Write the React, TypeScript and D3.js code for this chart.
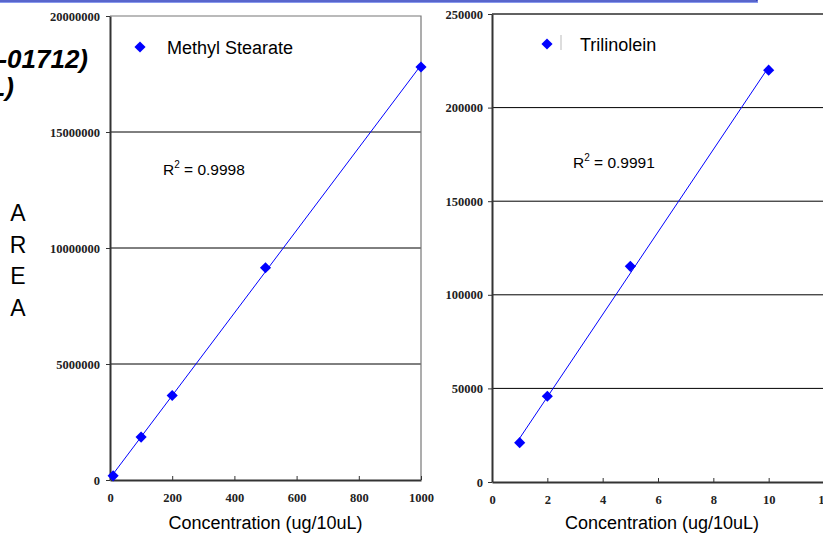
import * as d3 from "d3";
import { useEffect, useRef } from "react";

// Methyl Stearate calibration
const stearateConc = [10, 100, 200, 500, 1000];
const stearateArea = [180000, 1850000, 3640000, 9150000, 17800000];
const stearateYTicks = [0, 5000000, 10000000, 15000000, 20000000];
const stearateXTicks = [0, 200, 400, 600, 800, 1000];

// Trilinolein calibration
const trilConc = [1, 2, 5, 10];
const trilArea = [21000, 45800, 115200, 220000];
const trilYTicks = [0, 50000, 100000, 150000, 200000, 250000];
const trilXTicks = [0, 2, 4, 6, 8, 10, 12];

const areaLetters = ["A", "R", "E", "A"];

function fit(xs: number[], ys: number[]) {
    const mx = d3.mean(xs)!;
    const my = d3.mean(ys)!;
    const sxy = d3.sum(xs, (x, i) => (x - mx) * (ys[i] - my));
    const sxx = d3.sum(xs, x => (x - mx) * (x - mx));
    const b = sxy / sxx;
    return (x: number) => my + b * (x - mx);
}

export default function App() {
    const svgRef = useRef<SVGSVGElement>(null);

    useEffect(() => {
        const svg = d3.select(svgRef.current);
        svg.selectAll("*").remove();

        // blue frame at the top
        svg.append("rect")
            .attr("x", -5).attr("y", -20).attr("width", 762).attr("height", 21)
            .attr("fill", "none").attr("stroke", "#2233bb").attr("stroke-width", 1.5);
        svg.append("line")
            .attr("x1", 0).attr("x2", 758).attr("y1", 2.5).attr("y2", 2.5)
            .attr("stroke", "#8899ee").attr("stroke-width", 1);

        // title fragments cut off at left
        svg.append("text")
            .attr("x", 88).attr("y", 68)
            .attr("text-anchor", "end")
            .attr("font-family", "Arial, 'Liberation Sans'")
            .attr("font-size", 26).attr("font-weight", "bold").attr("font-style", "italic")
            .text("(TC-01712)");
        svg.append("text")
            .attr("x", 14).attr("y", 96)
            .attr("text-anchor", "end")
            .attr("font-family", "Arial, 'Liberation Sans'")
            .attr("font-size", 26).attr("font-weight", "bold").attr("font-style", "italic")
            .text("(ug/10uL)");

        svg.append("g")
            .selectAll("text")
            .data(areaLetters)
            .join("text")
            .attr("x", 18)
            .attr("y", (d, i) => 221 + i * 31.5)
            .attr("text-anchor", "middle")
            .attr("font-family", "Arial, 'Liberation Sans'")
            .attr("font-size", 23)
            .text(d => d);

        const drawChart = (opts: any) => {
            const { xs, ys, xTicks, yTicks, xDomain, yDomain, left, right, top, bottom, labelGap, legend, legendX, legendY, r2, r2X, r2Y, bar, frame } = opts;
            const x = d3.scaleLinear().domain(xDomain).range([left, right]);
            const y = d3.scaleLinear().domain(yDomain).range([bottom, top]);
            const g = svg.append("g");

            // gridlines
            g.append("g")
                .selectAll("line")
                .data(yTicks.slice(1, -1))
                .join("line")
                .attr("x1", left).attr("x2", right)
                .attr("y1", (d: number) => y(d)).attr("y2", (d: number) => y(d))
                .attr("stroke", "#000").attr("stroke-width", 1);

            // frame top/right
            g.append("path")
                .attr("d", `M${left},${top}H${right}V${bottom}`)
                .attr("fill", "none").attr("stroke", frame).attr("stroke-width", 1.2);

            const yAxis = g.append("g")
                .attr("transform", `translate(${left},0)`)
                .call(d3.axisLeft(y).tickValues(yTicks).tickSizeInner(4).tickSizeOuter(0).tickPadding(labelGap).tickFormat(d3.format("d")));
            const xAxis = g.append("g")
                .attr("transform", `translate(0,${bottom})`)
                .call(d3.axisBottom(x).tickValues(xTicks).tickSizeInner(-4).tickSizeOuter(0).tickPadding(13).tickFormat(d3.format("d")));
            [yAxis, xAxis].forEach(a => {
                a.select(".domain").attr("stroke", "#333").attr("stroke-width", 2);
                a.selectAll(".tick line").attr("stroke", "#333");
                a.selectAll(".tick text")
                    .attr("font-family", "'Times New Roman', 'Liberation Serif', serif")
                    .attr("font-weight", "bold")
                    .attr("font-size", 12.5)
                    .attr("fill", "#222");
            });

            // trendline
            const f = fit(xs, ys);
            const ext = d3.extent(xs) as [number, number];
            g.append("line")
                .attr("x1", x(ext[0])).attr("y1", y(f(ext[0])))
                .attr("x2", x(ext[1])).attr("y2", y(f(ext[1])))
                .attr("stroke", "#0000ff").attr("stroke-width", 1);

            const diamond = d3.symbol(d3.symbolSquare, 62);
            g.append("g")
                .selectAll("path")
                .data(xs.map((v: number, i: number) => [v, ys[i]]))
                .join("path")
                .attr("d", diamond)
                .attr("transform", (d: number[]) => `translate(${x(d[0])},${y(d[1])}) rotate(45)`)
                .attr("fill", "#0000ff");

            // legend
            g.append("path")
                .attr("d", diamond)
                .attr("transform", `translate(${legendX},${legendY}) rotate(45)`)
                .attr("fill", "#0000ff");
            if (bar) {
                g.append("line")
                    .attr("x1", legendX + 14).attr("x2", legendX + 14)
                    .attr("y1", legendY - 9).attr("y2", legendY + 6)
                    .attr("stroke", "#bbb");
            }
            g.append("text")
                .attr("x", legendX + (bar ? 33 : 27)).attr("y", legendY + 7)
                .attr("font-family", "Arial, 'Liberation Sans'")
                .attr("font-size", 18)
                .text(legend);

            const t = g.append("text")
                .attr("x", r2X).attr("y", r2Y)
                .attr("font-family", "Arial, 'Liberation Sans'")
                .attr("font-size", 15.5);
            t.append("tspan").text("R");
            t.append("tspan").attr("dy", -7).attr("font-size", 10).text("2");
            t.append("tspan").attr("dy", 7).text(" = " + r2);

            g.append("text")
                .attr("x", (left + right) / 2 + (opts.titleShift || 0)).attr("y", 529)
                .attr("text-anchor", "middle")
                .attr("font-family", "Arial, 'Liberation Sans'")
                .attr("font-size", 18)
                .text("Concentration (ug/10uL)");
        };

        drawChart({
            xs: stearateConc, ys: stearateArea, xTicks: stearateXTicks, yTicks: stearateYTicks,
            xDomain: [0, 1000], yDomain: [0, 20000000],
            left: 110, right: 421, top: 16, bottom: 480, labelGap: 6,
            legend: "Methyl Stearate", legendX: 140, legendY: 47,
            r2: "0.9998", r2X: 163, r2Y: 175, frame: "#777"
        });

        drawChart({
            xs: trilConc, ys: trilArea, xTicks: trilXTicks, yTicks: trilYTicks.concat([300000]),
            xDomain: [0, 12], yDomain: [0, 250000],
            left: 492, right: 824, top: 14, bottom: 482, labelGap: 5,
            legend: "Trilinolein", legendX: 547, legendY: 44, bar: true,
            r2: "0.9991", r2X: 573, r2Y: 168, titleShift: 4, frame: "#444"
        });
    }, []);

    return <svg ref={svgRef} width={823} height={533} style={{ position: "absolute", left: 0, top: 0, background: "#fff" }} />;
}
